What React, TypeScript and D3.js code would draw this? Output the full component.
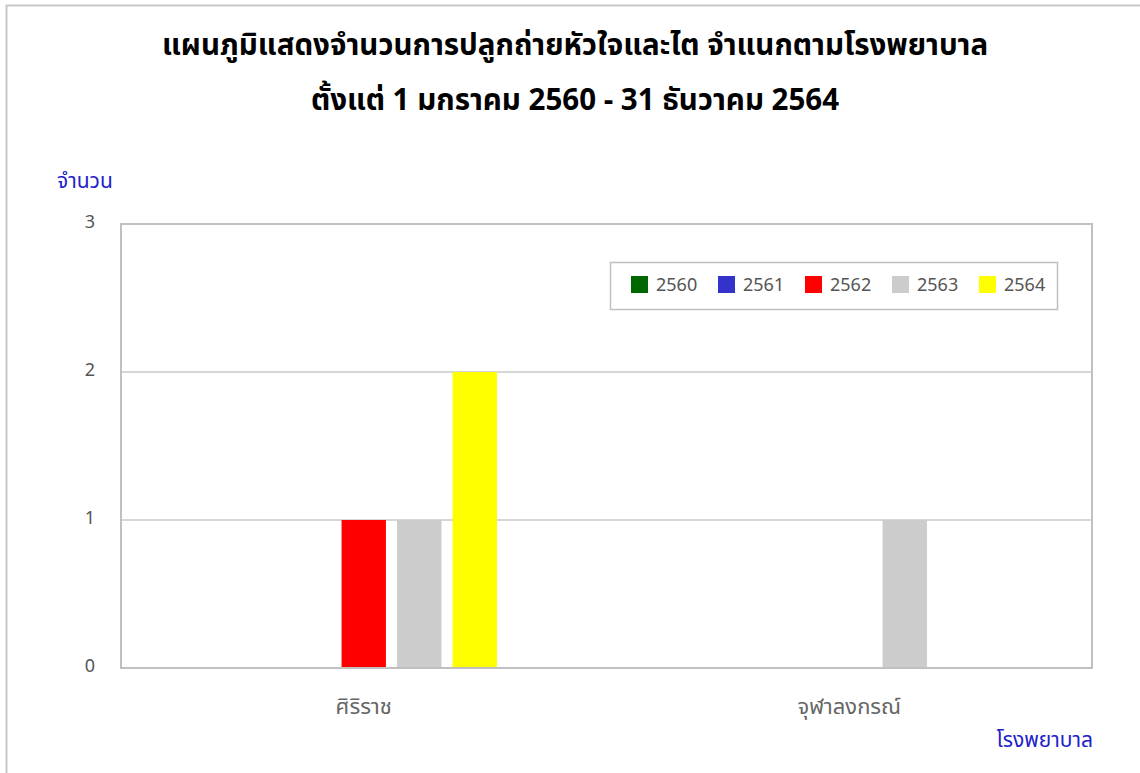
import { useEffect, useRef } from 'react';
import * as d3 from 'd3';

// chart data
const hospitals = ['ศิริราช', 'จุฬาลงกรณ์'];
const years = ['2560', '2561', '2562', '2563', '2564'];
const yearColors = ['#006600', '#3333cc', '#ff0000', '#cccccc', '#ffff00'];
// counts per hospital, one array per year
const counts2560 = [0, 0];
const counts2561 = [0, 0];
const counts2562 = [1, 0];
const counts2563 = [1, 1];
const counts2564 = [2, 0];
const yTicks = [0, 1, 2, 3];

const titleLine1 = 'แผนภูมิแสดงจำนวนการปลูกถ่ายหัวใจและไต จำแนกตามโรงพยาบาล';
const titleLine2 = 'ตั้งแต่ 1 มกราคม 2560 - 31 ธันวาคม 2564';

const FONT = '"Noto Sans Thai", Tahoma, "Noto Sans", sans-serif';

export default function App() {
  const svgRef = useRef<SVGSVGElement>(null);

  useEffect(() => {
    if (!svgRef.current) return;
    const svg = d3.select(svgRef.current);
    svg.selectAll('*').remove();

    const W = 1140;
    const H = 773;
    const plot = { left: 121, right: 1092, top: 224, bottom: 668 };

    const series = [counts2560, counts2561, counts2562, counts2563, counts2564];
    const rows = hospitals.map((h, i) => ({
      hospital: h,
      values: years.map((y, j) => ({ year: y, value: series[j][i], color: yearColors[j] })),
    }));

    // outer chart border
    svg.append('rect')
      .attr('x', 6.5).attr('y', 5.5)
      .attr('width', W + 10).attr('height', H + 10)
      .attr('fill', '#fff')
      .attr('stroke', '#c8c8c8')
      .attr('stroke-width', 2);

    // title
    svg.append('text')
      .attr('x', 575).attr('y', 55)
      .attr('text-anchor', 'middle')
      .attr('font-family', FONT)
      .attr('font-size', 29.5)
      .attr('font-weight', 'bold')
      .attr('fill', '#000')
      .text(titleLine1);
    svg.append('text')
      .attr('x', 575).attr('y', 110)
      .attr('text-anchor', 'middle')
      .attr('font-family', FONT)
      .attr('font-size', 29.5)
      .attr('font-weight', 'bold')
      .attr('fill', '#000')
      .text(titleLine2);

    const x0 = d3.scaleBand()
      .domain(hospitals)
      .range([plot.left, plot.right])
      .paddingInner(0.4284)
      .paddingOuter(0.2142);

    const x1 = d3.scaleBand()
      .domain(years)
      .range([0, x0.bandwidth()])
      .paddingInner(0.2)
      .paddingOuter(0.1);

    const y = d3.scaleLinear().domain([0, 3]).range([plot.bottom, plot.top]);

    // grid lines
    svg.append('g')
      .selectAll('line')
      .data(yTicks.slice(1, -1))
      .enter()
      .append('line')
      .attr('x1', plot.left).attr('x2', plot.right)
      .attr('y1', (d) => y(d)).attr('y2', (d) => y(d))
      .attr('stroke', '#c8c8c8')
      .attr('stroke-width', 1.5);

    // bars
    const groups = svg.append('g')
      .selectAll('g')
      .data(rows)
      .enter()
      .append('g')
      .attr('transform', (d) => `translate(${x0(d.hospital)},0)`);

    groups.selectAll('rect')
      .data((d) => d.values.filter((v) => v.value > 0))
      .enter()
      .append('rect')
      .attr('x', (d) => x1(d.year) || 0)
      .attr('y', (d) => y(d.value))
      .attr('width', x1.bandwidth())
      .attr('height', (d) => y(0) - y(d.value))
      .attr('fill', (d) => d.color);

    // plot border
    svg.append('rect')
      .attr('x', plot.left).attr('y', plot.top)
      .attr('width', plot.right - plot.left)
      .attr('height', plot.bottom - plot.top)
      .attr('fill', 'none')
      .attr('stroke', '#c0c0c0')
      .attr('stroke-width', 2);

    // y tick labels
    svg.append('g')
      .selectAll('text')
      .data(yTicks)
      .enter()
      .append('text')
      .attr('x', 95)
      .attr('y', (d) => y(d) - 2)
      .attr('dy', '0.35em')
      .attr('text-anchor', 'end')
      .attr('font-family', FONT)
      .attr('font-size', 18)
      .attr('fill', '#555')
      .text((d) => d);

    // x labels
    svg.append('g')
      .selectAll('text')
      .data(hospitals)
      .enter()
      .append('text')
      .attr('x', (d) => (x0(d) || 0) + x0.bandwidth() / 2)
      .attr('y', 714)
      .attr('text-anchor', 'middle')
      .attr('font-family', FONT)
      .attr('font-size', 22)
      .attr('fill', '#666')
      .text((d) => d);

    // axis titles
    svg.append('text')
      .attr('x', 57).attr('y', 188)
      .attr('font-family', FONT)
      .attr('font-size', 21)
      .attr('fill', '#2222cc')
      .text('จำนวน');
    svg.append('text')
      .attr('x', 1093).attr('y', 747)
      .attr('text-anchor', 'end')
      .attr('font-family', FONT)
      .attr('font-size', 21)
      .attr('fill', '#2222cc')
      .text('โรงพยาบาล');

    // legend
    const legend = svg.append('g').attr('transform', 'translate(610,262)');
    legend.append('rect')
      .attr('x', 0.5).attr('y', 0.5)
      .attr('width', 447).attr('height', 47)
      .attr('fill', '#fff')
      .attr('stroke', '#c0c0c0')
      .attr('stroke-width', 1.5);
    const items = legend.selectAll('g.item')
      .data(years)
      .enter()
      .append('g')
      .attr('class', 'item')
      .attr('transform', (d, i) => `translate(${21 + i * 87},14)`);
    items.append('rect')
      .attr('width', 17).attr('height', 17)
      .attr('fill', (d, i) => yearColors[i]);
    items.append('text')
      .attr('x', 25).attr('y', 8.5)
      .attr('dy', '0.35em')
      .attr('font-family', FONT)
      .attr('font-size', 18)
      .attr('fill', '#555')
      .text((d) => d);
  }, []);

  return (
    <svg
      ref={svgRef}
      width={1140}
      height={773}
      style={{ position: 'absolute', left: 0, top: 0, display: 'block' }}
    />
  );
}
